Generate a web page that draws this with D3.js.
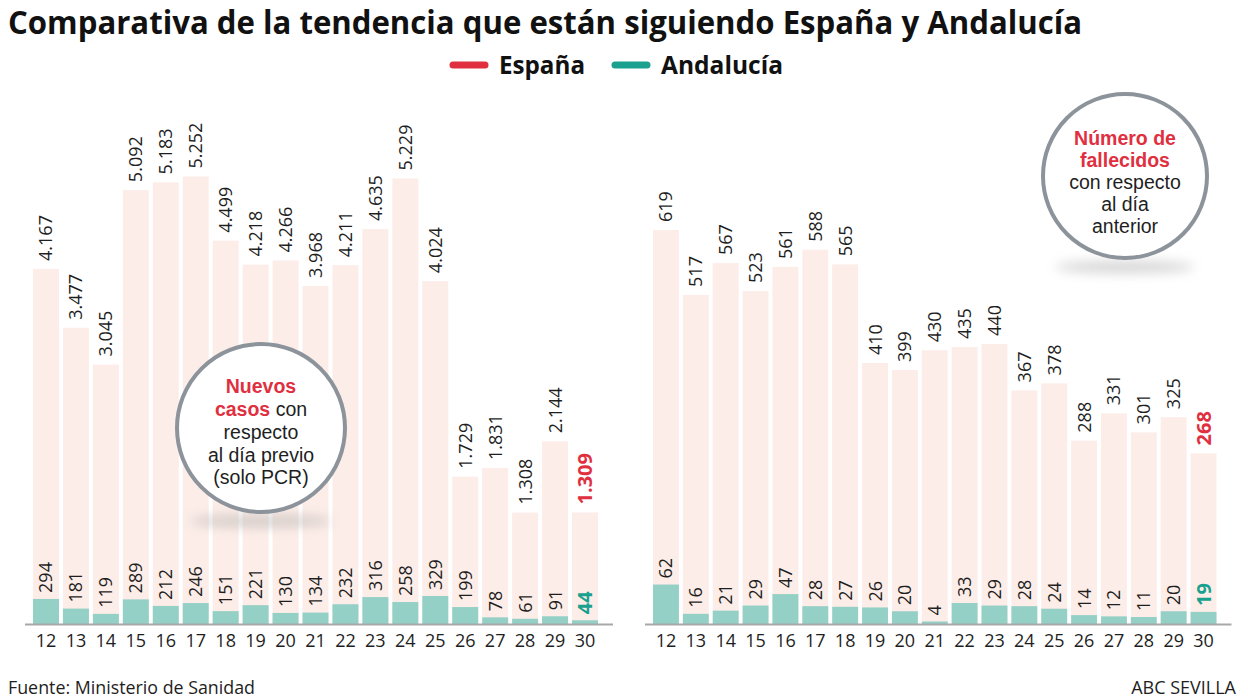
<!DOCTYPE html>
<html><head><meta charset="utf-8">
<script src="https://cdn.jsdelivr.net/npm/d3@7/dist/d3.min.js"></script>
<style>body{margin:0;background:#fff}svg{display:block}text{font-family:"Open Sans","Noto Sans",sans-serif}</style>
</head><body>
<svg id="c" width="1248" height="698"></svg>
<script>
const days = [12,13,14,15,16,17,18,19,20,21,22,23,24,25,26,27,28,29,30];
const casosEspana = [4167,3477,3045,5092,5183,5252,4499,4218,4266,3968,4211,4635,5229,4024,1729,1831,1308,2144,1309];
const casosAndalucia = [294,181,119,289,212,246,151,221,130,134,232,316,258,329,199,78,61,91,44];
const fallEspana = [619,517,567,523,561,588,565,410,399,430,435,440,367,378,288,331,301,325,268];
const fallAndalucia = [62,16,21,29,47,28,27,26,20,4,33,29,28,24,14,12,11,20,19];

const RED = "#e0303f", TEAL = "#1aa08e", PINK = "#fcede8", TEALBAR = "#95d0c6", INK = "#1e1e1e";
const loc = d3.formatLocale({thousands:".", grouping:[3], decimal:",", currency:["","€"]});
const fmt = loc.format(",d");

const svg = d3.select("#c");
const defs = svg.append("defs");
defs.append("filter").attr("id","blur").attr("x","-50%").attr("y","-200%").attr("width","200%").attr("height","500%")
  .append("feGaussianBlur").attr("stdDeviation", 6);

// Title
svg.append("text").attr("x",8).attr("y",34).attr("font-size",33).attr("font-weight",700).attr("fill","#111")
  .attr("textLength",1074).attr("lengthAdjust","spacingAndGlyphs")
  .text("Comparativa de la tendencia que están siguiendo España y Andalucía");

// Legend
const legend = [{name:"España", c:RED, x:450, w:86}, {name:"Andalucía", c:TEAL, x:612, w:122}];
legend.forEach(l=>{
  svg.append("line").attr("x1",l.x+3).attr("x2",l.x+35).attr("y1",65).attr("y2",65)
    .attr("stroke",l.c).attr("stroke-width",7).attr("stroke-linecap","round");
  svg.append("text").attr("x",l.x+49).attr("y",74).attr("font-size",25).attr("font-weight",700).attr("fill","#111")
    .attr("textLength",l.w).attr("lengthAdjust","spacingAndGlyphs").text(l.name);
});

const baseline = 624;

function panel(r0, r1, topY, es, an) {
  const x = d3.scaleBand().domain(days).range([r0, r1]).paddingInner(0.132).paddingOuter(0);
  const y = d3.scaleLinear().domain([0, d3.max(es)]).range([baseline, topY]);
  const g = svg.append("g");
  g.selectAll("rect.es").data(days).join("rect").attr("class","es")
    .attr("x", d=>x(d)).attr("width", x.bandwidth())
    .attr("y", (d,i)=>y(es[i])).attr("height", (d,i)=>baseline - y(es[i])).attr("fill", PINK);
  g.selectAll("rect.an").data(days).join("rect").attr("class","an")
    .attr("x", d=>x(d)).attr("width", x.bandwidth())
    .attr("y", (d,i)=>y(an[i])).attr("height", (d,i)=>baseline - y(an[i])).attr("fill", TEALBAR);
  g.append("line").attr("x1", r0-8).attr("x2", r1+15).attr("y1", baseline+0.5).attr("y2", baseline+0.5)
    .attr("stroke","#a8a8a8").attr("stroke-width",2);
  const last = days.length-1;
  const lab = (arr, off, col) => g.selectAll(null).data(days).join("text")
    .attr("transform",(d,i)=>`translate(${x(d)+x.bandwidth()/2},${y(arr[i])-off}) rotate(-90)`)
    .attr("dy","0.36em").attr("font-size",(d,i)=>i===last?20:18)
    .attr("font-weight",(d,i)=>i===last?700:400)
    .attr("fill",(d,i)=>i===last?col:INK).text((d,i)=>fmt(arr[i]));
  lab(es, 8, RED);
  lab(an, 6, TEAL);
  g.selectAll("text.tick").data(days).join("text").attr("class","tick")
    .attr("x", d=>x(d)+x.bandwidth()/2).attr("y", 647).attr("text-anchor","middle")
    .attr("font-size",18).attr("fill",INK).text(d=>d);
}
panel(33, 598, 176.5, casosEspana, casosAndalucia);
panel(653, 1216.5, 230, fallEspana, fallAndalucia);

// Bubbles
function bubble(cx, cy, r, lines) {
  svg.append("ellipse").attr("cx",cx).attr("cy",cy+r+9).attr("rx",r*0.85).attr("ry",6)
    .attr("fill","#a0a0a0").attr("opacity",0.45).attr("filter","url(#blur)");
  svg.append("circle").attr("cx",cx).attr("cy",cy).attr("r",r).attr("fill","#fff")
    .attr("stroke","#8d939b").attr("stroke-width",4);
  lines.forEach(l=>{
    const t = svg.append("text").attr("x",cx).attr("y",l.y).attr("text-anchor","middle")
      .attr("font-size",19.5).attr("fill",INK).style("font-family",'"Liberation Sans",Arial,sans-serif');
    l.parts.forEach(p=>t.append("tspan").attr("font-weight",p.b?700:400).attr("fill",p.b?RED:INK).text(p.t));
  });
}
bubble(261, 428, 84, [
  {y:393, parts:[{t:"Nuevos",b:true}]},
  {y:416, parts:[{t:"casos",b:true},{t:" con"}]},
  {y:439, parts:[{t:"respecto"}]},
  {y:461.5, parts:[{t:"al día previo"}]},
  {y:484, parts:[{t:"(solo PCR)"}]}
]);
bubble(1125, 176, 82, [
  {y:145, parts:[{t:"Número de",b:true}]},
  {y:167, parts:[{t:"fallecidos",b:true}]},
  {y:189, parts:[{t:"con respecto"}]},
  {y:211, parts:[{t:"al día"}]},
  {y:233, parts:[{t:"anterior"}]}
]);

// Footer
svg.append("text").attr("x",8).attr("y",694).attr("font-size",18).attr("fill",INK)
  .attr("textLength",247).attr("lengthAdjust","spacingAndGlyphs").text("Fuente: Ministerio de Sanidad");
svg.append("text").attr("x",1236).attr("y",694).attr("text-anchor","end").attr("font-size",18).attr("fill",INK)
  .text("ABC SEVILLA");
</script>
</body></html>
